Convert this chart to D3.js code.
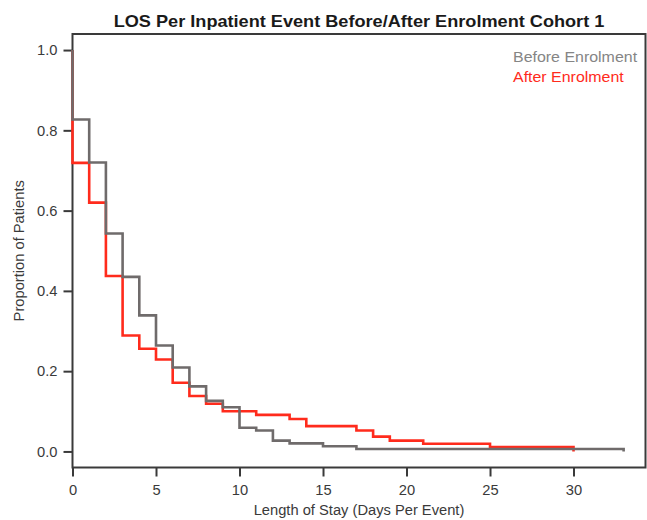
<!DOCTYPE html>
<html>
<head>
<meta charset="utf-8">
<script src="https://cdn.jsdelivr.net/npm/d3@7"></script>
<style>
	body { margin: 0; background: #fff; }
	text { font-family: "Liberation Sans", Arial, sans-serif; }
</style>
</head>
<body>
<svg id="chart" width="647" height="520"></svg>
<script>
"use strict";

// proportion of events with LOS >= day, step drops at each listed day
var beforeDays = [0, 0, 1, 2, 3, 4, 5, 6, 7, 8, 9, 10, 11, 12, 13, 15, 17, 33];
var beforeProp = [1.0, 0.827, 0.720, 0.543, 0.435, 0.339, 0.264, 0.209, 0.162, 0.126, 0.110, 0.059, 0.052, 0.027, 0.020, 0.013, 0.006, 0];

var afterDays = [0, 0, 1, 2, 3, 4, 5, 6, 7, 8, 9, 11, 13, 14, 17, 18, 19, 21, 25, 30];
var afterProp = [1.0, 0.719, 0.620, 0.437, 0.289, 0.256, 0.229, 0.171, 0.138, 0.119, 0.100, 0.091, 0.081, 0.063, 0.052, 0.037, 0.027, 0.019, 0.011, 0];

var xTicks = [0, 5, 10, 15, 20, 25, 30];
var yTicks = [0, 0.2, 0.4, 0.6, 0.8, 1.0];

var seriesNames = ["Before Enrolment", "After Enrolment"];
var seriesColors = ["#6f6b6b", "#ff2b1c"];

var box = {left: 72.5, right: 645.5, top: 34, bottom: 467.5};

var svg = d3.select("#chart");

var xscale = d3.scaleLinear()
	.domain([0, 34.31])
	.range([box.left, box.right]);
var yscale = d3.scaleLinear()
	.domain([-0.04, 1.04])
	.range([box.bottom, box.top]);

// title (source text is a little wider than the font, so stretch it)
svg.append("text")
	.attr("transform", `translate(${(box.left + box.right) / 2}, 26.5) scale(1.1, 1)`)
	.attr("text-anchor", "middle")
	.attr("font-size", "16.5px")
	.attr("font-weight", "bold")
	.attr("fill", "#1a1a1a")
	.text("LOS Per Inpatient Event Before/After Enrolment Cohort 1");

// axes
var xaxis = d3.axisBottom(xscale)
	.tickValues(xTicks)
	.tickSize(9)
	.tickPadding(8)
	.tickFormat(d3.format("d"));
var yaxis = d3.axisLeft(yscale)
	.tickValues(yTicks)
	.tickSize(9)
	.tickPadding(6)
	.tickFormat(d3.format(".1f"));

var gx = svg.append("g")
	.attr("transform", `translate(0, ${box.bottom})`)
	.call(xaxis);
var gy = svg.append("g")
	.attr("transform", `translate(${box.left}, 0)`)
	.call(yaxis);

for (let g of [gx, gy]) {
	g.select(".domain").remove();
	g.selectAll(".tick line").attr("stroke", "#3a3a3a").attr("stroke-width", 2);
	g.selectAll(".tick text")
		.attr("fill", "#3a3a3a")
		.attr("font-size", "14.7px")
		.style("font-family", "\"Liberation Sans\", Arial, sans-serif");
}

// plot frame
svg.append("rect")
	.attr("x", box.left)
	.attr("y", box.top)
	.attr("width", box.right - box.left)
	.attr("height", box.bottom - box.top)
	.attr("fill", "none")
	.attr("stroke", "#3a3a3a")
	.attr("stroke-width", 2);

// step lines, after first so before sits on top
var line = d3.line()
	.x(d=>xscale(d[0]))
	.y(d=>yscale(d[1]))
	.curve(d3.curveStepAfter);

var afterData = afterDays.map((d, i)=>[d, afterProp[i]]);
var beforeData = beforeDays.map((d, i)=>[d, beforeProp[i]]);

svg.append("path")
	.datum(afterData)
	.attr("d", line)
	.attr("fill", "none")
	.attr("stroke", seriesColors[1])
	.attr("stroke-width", 2.6);

svg.append("path")
	.datum(beforeData)
	.attr("d", line)
	.attr("fill", "none")
	.attr("stroke", seriesColors[0])
	.attr("stroke-width", 2.6);

// legend
var legend = svg.append("g").attr("transform", "translate(513, 61.5)");
legend.selectAll("text")
	.data(seriesNames)
	.enter()
	.append("text")
	.attr("transform", (d, i)=>`translate(0, ${i * 20}) scale(1.1, 1)`)
	.attr("font-size", "14.5px")
	.attr("fill", (d, i)=>i == 0 ? "#858585" : seriesColors[1])
	.text(d=>d);

// axis titles
svg.append("text")
	.attr("x", (box.left + box.right) / 2)
	.attr("y", 515)
	.attr("text-anchor", "middle")
	.attr("font-size", "14.7px")
	.attr("fill", "#3a3a3a")
	.text("Length of Stay (Days Per Event)");

svg.append("text")
	.attr("transform", `translate(24, ${(box.top + box.bottom) / 2}) rotate(-90)`)
	.attr("text-anchor", "middle")
	.attr("font-size", "14.7px")
	.attr("fill", "#3a3a3a")
	.text("Proportion of Patients");
</script>
</body>
</html>
